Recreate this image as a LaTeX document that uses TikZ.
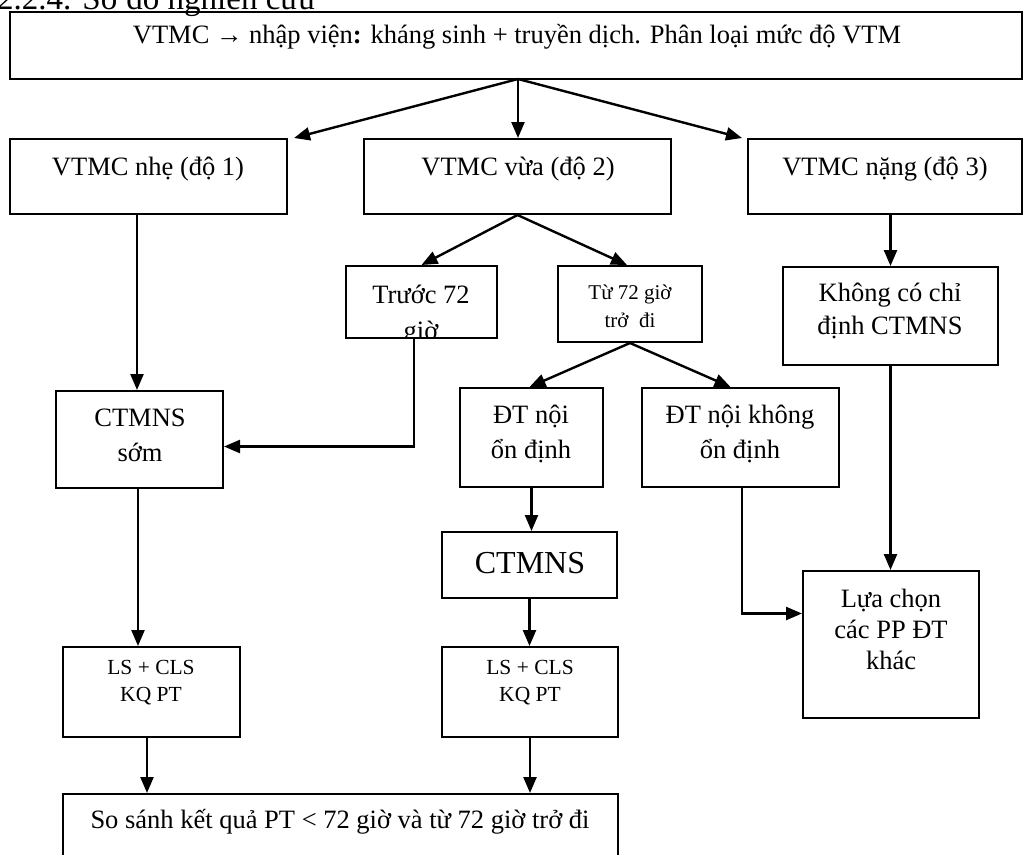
\documentclass[tikz,border=0pt]{standalone}
\usepackage{fontspec}
\setmainfont{Liberation Serif}
\usetikzlibrary{arrows.meta,fit,calc}
\tikzset{
  bx/.style={draw, line width=2pt, inner sep=0pt, fit={#1}},
  arr/.style={line width=2.4pt, -{Triangle[length=16pt,width=13pt]}},
  lbl/.style={inner sep=0pt, align=center},
}
\newcommand\fs[2]{\fontsize{#1}{#2}\selectfont}
\begin{document}
\begin{tikzpicture}[x=1pt,y=-1pt]
\clip (0,0) rectangle (1024,854);
\fill[white] (0,0) rectangle (1024,854);
% title (cut off at top)
\node[anchor=base west, inner sep=0pt, font=\fs{33}{36}] (title) at (-3,9) {2.2.4. Sơ đồ nghiên cứu};
% boxes
\node[bx={(10,12) (1022,79)}] (hdr) {};
\node[bx={(10,139) (287,214)}] (b1) {};
\node[bx={(364,139) (671,214)}] (b2) {};
\node[bx={(748,139) (1022,214)}] (b3) {};
\node[bx={(346,266) (497,338)}] (trc) {};
\node[bx={(558,266) (702,342)}] (tu) {};
\node[bx={(783,267) (998,365)}] (kco) {};
\node[bx={(56,391) (223,488)}] (csom) {};
\node[bx={(460,388) (603,487)}] (dto) {};
\node[bx={(642,388) (839,487)}] (dtk) {};
\node[bx={(442,532) (617,598)}] (ct) {};
\node[bx={(803,571) (979,718)}] (lc) {};
\node[bx={(63,647) (240,737)}] (ls1) {};
\node[bx={(442,647) (618,737)}] (ls2) {};
\node[bx={(63,794) (618,880)}] (bot) {};
% texts
\node[lbl, font=\fs{26.5}{30}] (thdr) at (517,37) {VTMC → nhập viện\textbf{:} kháng sinh + truyền dịch. Phân loại mức độ VTM};
\node[lbl, font=\fs{26.5}{30}] (tb1) at (148,169) {VTMC nhẹ (độ 1)};
\node[lbl, font=\fs{26.5}{30}] (tb2) at (518,169) {VTMC vừa (độ 2)};
\node[lbl, font=\fs{26.5}{30}] (tb3) at (885,169) {VTMC nặng (độ 3)};
\begin{scope}
\clip (347,267) rectangle (496,337);
\node[lbl, font=\fs{26.5}{36}] (ttrc) at (421,315) {Trước 72\\giờ};
\end{scope}
\node[lbl, font=\fs{21}{28}] (ttu) at (630,306) {Từ 72 giờ\\trở~~đi};
\node[lbl, font=\fs{26.5}{33}] (tkco) at (890,311) {Không có chỉ\\định CTMNS};
\node[lbl, font=\fs{26.5}{35}] (tcsom) at (140,435) {CTMNS\\sớm};
\node[lbl, font=\fs{26.5}{35}] (tdto) at (531,434) {ĐT nội\\ổn định};
\node[lbl, font=\fs{26.5}{35}] (tdtk) at (740,434) {ĐT nội không\\ổn định};
\node[lbl, font=\fs{32}{36}] (tct) at (530,563) {CTMNS};
\node[lbl, font=\fs{26.5}{31}] (tlc) at (891,629) {Lựa chọn\\các PP ĐT\\khác};
\node[lbl, font=\fs{21.5}{27}] (tls1) at (151,683) {LS + CLS\\KQ PT};
\node[lbl, font=\fs{21.5}{27}] (tls2) at (530,683) {LS + CLS\\KQ PT};
\node[lbl, font=\fs{26.5}{30}] (tbot) at (340,822) {So sánh kết quả PT < 72 giờ và từ 72 giờ trở đi};
% connectors
\coordinate (hs) at (518,79);
\draw[arr] (hs) -- (hs |- b2.north);
\draw[arr] (hs) -- ($(b1.north east)+(6,0)$);
\draw[arr] (hs) -- ($(b3.north west)+(-5,0)$);
\draw[arr] (b1.south -| 137,0) -- (137,0 |- csom.north);
\draw[arr] (b2.south) -- (trc.north);
\draw[arr] (b2.south) -- ($(tu.north)+(-3,0)$);
\draw[arr] (trc.south -| 414,0) |- ($(csom.east)+(0,7)$);
\draw[arr] (kco.north |- b3.south) -- (kco.north);
\draw[arr] (tu.south) -- ($(dto.north)+(-2,0)$);
\draw[arr] (tu.south) -- ($(dtk.north)+(-10,0)$);
\draw[arr] (dto.south) -- (dto.south |- ct.north);
\draw[arr] (ct.south) -- (ct.south |- ls2.north);
\draw[arr] (dtk.south -| 742,0) |- ($(lc.west)+(0,-31)$);
\draw[arr] (kco.south) -- (kco.south |- lc.north);
\draw[arr] (csom.south -| 138,0) -- (138,0 |- ls1.north);
\draw[arr] (ls1.south -| 147,0) -- (147,0 |- bot.north);
\draw[arr] (ls2.south) -- (ls2.south |- bot.north);
\end{tikzpicture}
\end{document}
